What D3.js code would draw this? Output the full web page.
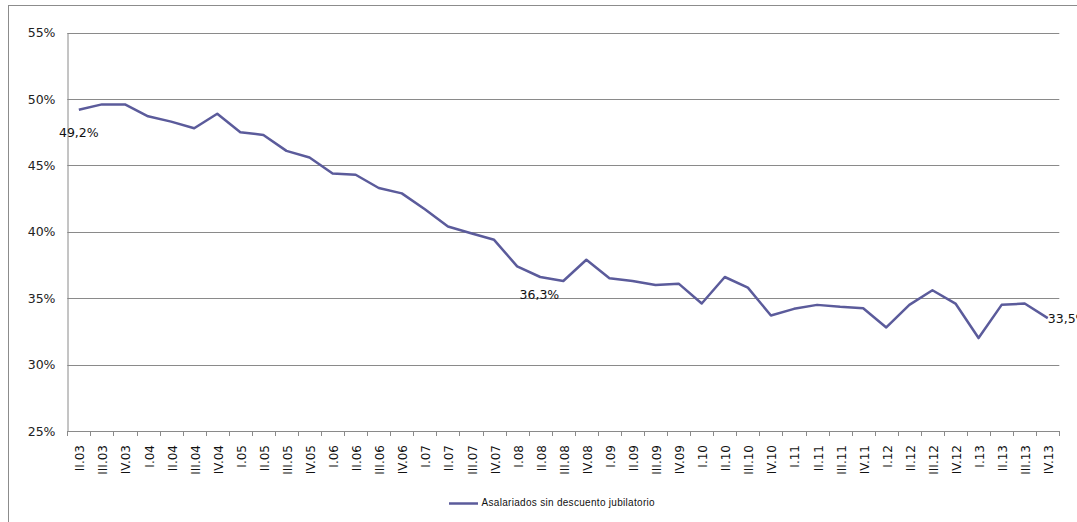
<!DOCTYPE html>
<html><head><meta charset="utf-8">
<script src="https://cdn.jsdelivr.net/npm/d3@7"></script>
<style>body{margin:0;background:#fff;} svg{display:block;}</style>
</head><body>
<svg id="chart" width="1077" height="522"></svg>
<script>
const categories = ["II.03","III.03","IV.03","I.04","II.04","III.04","IV.04","I.05","II.05","III.05","IV.05","I.06","II.06","III.06","IV.06","I.07","II.07","III.07","IV.07","I.08","II.08","III.08","IV.08","I.09","II.09","III.09","IV.09","I.10","II.10","III.10","IV.10","I.11","II.11","III.11","IV.11","I.12","II.12","III.12","IV.12","I.13","II.13","III.13","IV.13"];
const values = [49.2,49.6,49.6,48.7,48.3,47.8,48.9,47.5,47.3,46.1,45.6,44.4,44.3,43.3,42.9,41.7,40.4,39.9,39.4,37.4,36.6,36.3,37.9,36.5,36.3,36.0,36.1,34.6,36.6,35.8,33.7,34.2,34.5,34.35,34.25,32.8,34.5,35.6,34.6,32.0,34.5,34.6,33.5];
const yTicks = [25,30,35,40,45,50,55];
const seriesName = "Asalariados sin descuento jubilatorio";
const labelIndices = [0, 21, 42];

(function(){
const svg = d3.select("#chart");
const pL = 67.3, pR = 1059.3, pT = 32.7, pB = 431;
const x = d3.scaleBand().domain(categories).range([pL, pR]);
const y = d3.scaleLinear().domain([25,55]).range([pB, pT]);
const fmt = v => d3.format(".1f")(v).replace(".", ",") + "%";

// outer border
svg.append("rect").attr("x",8.5).attr("y",5.5).attr("width",1100).attr("height",600)
  .attr("fill","none").attr("stroke","#8c8c8c").attr("stroke-width",1);

// gridlines
svg.append("g").selectAll("line").data(yTicks).join("line")
  .attr("x1",pL).attr("x2",pR)
  .attr("y1",d=>Math.round(y(d))+0.5).attr("y2",d=>Math.round(y(d))+0.5)
  .attr("stroke","#8a8a8a").attr("stroke-width",1);

// y axis
const yAxis = svg.append("g").attr("transform",`translate(${Math.round(pL)+0.5},0)`)
  .call(d3.axisLeft(y).tickValues(yTicks).tickSize(0).tickPadding(12).tickFormat(d=>d+"%"));
yAxis.select(".domain").attr("stroke","#8a8a8a");
yAxis.selectAll("text").attr("font-family","DejaVu Sans").attr("font-size","12.5px").attr("fill","#222");

// x axis ticks at band boundaries
const bounds = categories.map(c=>x(c)).concat([pR]);
svg.append("g").selectAll("line").data(bounds).join("line")
  .attr("x1",d=>Math.round(d)+0.5).attr("x2",d=>Math.round(d)+0.5)
  .attr("y1",pB).attr("y2",pB+5)
  .attr("stroke","#8a8a8a");
svg.append("g").selectAll("text").data(categories).join("text")
  .attr("transform",d=>`translate(${x(d)+x.bandwidth()/2+2},445) rotate(-90)`)
  .attr("text-anchor","end").attr("dominant-baseline","middle")
  .attr("font-family","DejaVu Sans").attr("font-size","12px").attr("fill","#111")
  .text(d=>d);

// line
const line = d3.line().x((d,i)=>x(categories[i])+x.bandwidth()/2).y(d=>y(d));
svg.append("path").datum(values).attr("d",line)
  .attr("fill","none").attr("stroke","#5b5b9b").attr("stroke-width",2.5).attr("stroke-linejoin","round");

// data labels
const lblOffsets = {0:[0,24,"middle"], 21:[-23.9,15,"middle"], 42:[0,1.5,"start"]};
labelIndices.forEach(i=>{
  const cx = x(categories[i])+x.bandwidth()/2, cy = y(values[i]);
  const o = lblOffsets[i];
  svg.append("text").attr("x",cx+o[0]).attr("y",cy+o[1])
    .attr("text-anchor",o[2]).attr("dominant-baseline","middle")
    .attr("font-family","DejaVu Sans").attr("font-size","12.5px").attr("fill","#111")
    .text(fmt(values[i]));
});

// legend
svg.append("line").attr("x1",449).attr("x2",478).attr("y1",503.5).attr("y2",503.5)
  .attr("stroke","#5b5b9b").attr("stroke-width",2.5);
svg.append("text").attr("x",481.5).attr("y",503.5).attr("dominant-baseline","middle")
  .attr("font-family","Liberation Sans").attr("font-size","10px").attr("letter-spacing","0.3px").attr("fill","#111")
  .text(seriesName);
})();
</script>
</body></html>
